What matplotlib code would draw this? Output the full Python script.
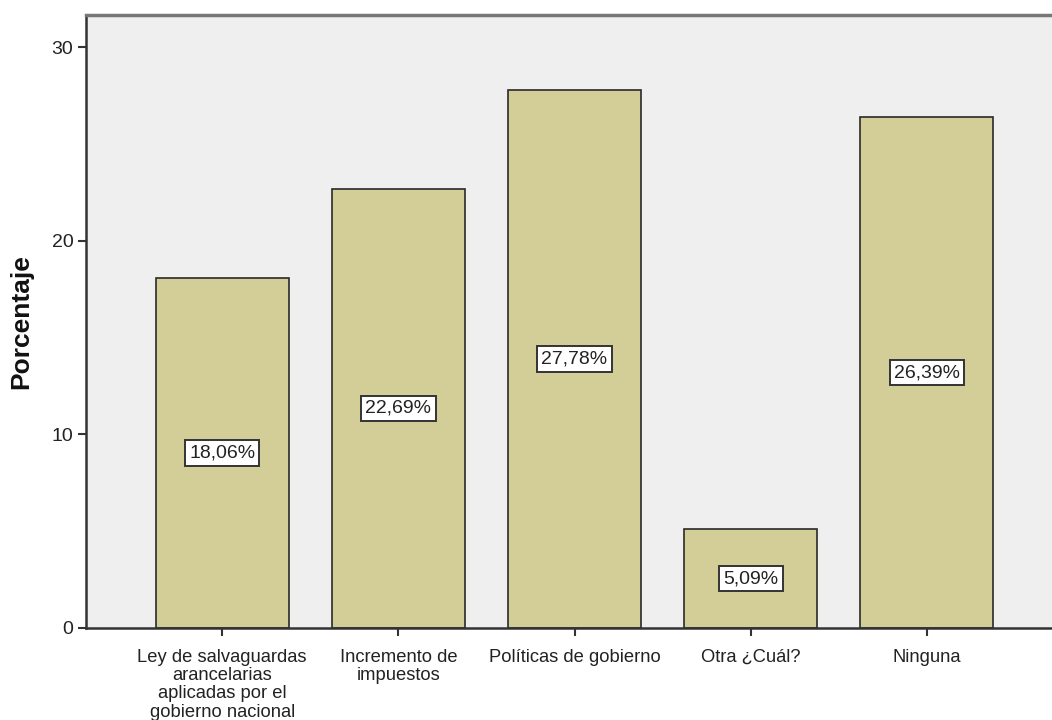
import matplotlib.pyplot as plt

plt.rcParams['font.family'] = ['Liberation Sans', 'DejaVu Sans']

categorias = ['Ley de salvaguardas\narancelarias\naplicadas por el\ngobierno nacional',
              'Incremento de\nimpuestos', 'Políticas de gobierno', 'Otra ¿Cuál?', 'Ninguna']
porcentajes = [18.06, 22.69, 27.78, 5.09, 26.39]
etiquetas = ['18,06%', '22,69%', '27,78%', '5,09%', '26,39%']

fig = plt.figure(figsize=(10.52, 7.2), dpi=100)
ax = fig.add_axes([0.0817, 0.1278, 0.9183, 0.851])
ax.set_facecolor('#efefef')

x = list(range(len(categorias)))
ax.bar(x, porcentajes, width=0.755, color='#d3ce97', edgecolor='#2a2a2a', linewidth=1.2, zorder=2)

for xi, v, t in zip(x, porcentajes, etiquetas):
    ax.text(xi, v / 2, t, ha='center', va='center', fontsize=14, color='#222222', zorder=3,
            bbox=dict(boxstyle='square,pad=0.22', facecolor='white', edgecolor='#333333', linewidth=1.4))

ax.set_xlim(-0.773, 4.71)
ax.set_ylim(0, 31.65)
ax.set_yticks([0, 10, 20, 30])
ax.set_xticks(x)
ax.set_xticklabels(categorias, fontsize=13.2, color='#222222', linespacing=1.1)
ax.tick_params(axis='y', labelsize=14, colors='#333333', length=6, width=1.5, labelcolor='#222222', pad=3)
ax.tick_params(axis='x', length=6, width=1.5, colors='#333333', labelcolor='#222222', pad=9)
ax.set_ylabel('Porcentaje', fontsize=19, fontweight='bold', color='#111111', labelpad=13)

ax.spines['right'].set_visible(False)
ax.spines['top'].set_color('#777777')
ax.spines['top'].set_linewidth(2.5)
ax.spines['left'].set_color('#333333')
ax.spines['left'].set_linewidth(1.8)
ax.spines['bottom'].set_color('#333333')
ax.spines['bottom'].set_linewidth(1.8)

fig.savefig('out.png', dpi=100)
